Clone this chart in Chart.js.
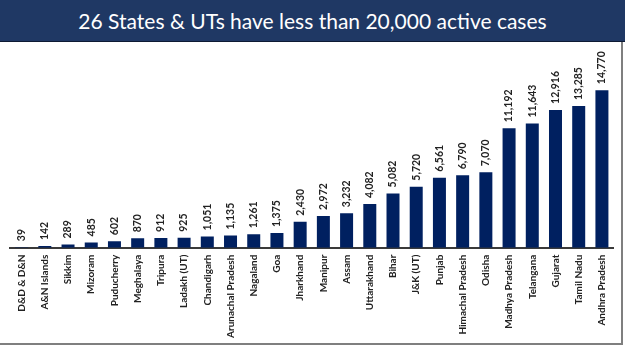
<!DOCTYPE html>
<html>
<head>
<meta charset="utf-8">
<script src="https://cdn.jsdelivr.net/npm/chart.js@4"></script>
<style>
  body { margin: 0; background: #fff; width: 625px; height: 351px; overflow: hidden; position: relative; }
  .titulo {
    position: absolute; left: 0; top: 0; width: 625px; height: 41px;
    background: #1f3864; border-bottom: 1px solid #0d1a33;
    color: #fff; font-family: Lato, "Open Sans", sans-serif; font-size: 21px;
    line-height: 41px; text-align: center;
  }
  .panel {
    position: absolute; left: 0; top: 42px; width: 621px; height: 301px;
    border-right: 2px solid #7f7f7f; border-bottom: 2px solid #7f7f7f;
  }
</style>
</head>
<body>
<div class="titulo">26 States &amp; UTs have less than 20,000 active cases</div>
<div class="panel"><canvas id="grafico" width="621" height="301"></canvas></div>
<script>
// estados y casos activos
const estados = ['D&D & D&N', 'A&N Islands', 'Sikkim', 'Mizoram', 'Puducherry', 'Meghalaya', 'Tripura',
    'Ladakh (UT)', 'Chandigarh', 'Arunachal Pradesh', 'Nagaland', 'Goa', 'Jharkhand', 'Manipur', 'Assam',
    'Uttarakhand', 'Bihar', 'J&K (UT)', 'Punjab', 'Himachal Pradesh', 'Odisha', 'Madhya Pradesh',
    'Telangana', 'Gujarat', 'Tamil Nadu', 'Andhra Pradesh'];
const casosActivos = [39, 142, 289, 485, 602, 870, 912, 925, 1051, 1135, 1261, 1375, 2430, 2972, 3232,
    4082, 5082, 5720, 6561, 6790, 7070, 11192, 11643, 12916, 13285, 14770];

const fuente = 'Lato, "Open Sans", sans-serif';

// etiquetas de valor encima de las barras
const etiquetasValor = {
    id: 'etiquetasValor',
    afterDatasetsDraw(chart) {
        const ctx = chart.ctx;
        const meta = chart.getDatasetMeta(0);
        ctx.save();
        ctx.fillStyle = '#222';
        ctx.font = 'bold 10.5px ' + fuente;
        ctx.textAlign = 'left';
        ctx.textBaseline = 'middle';
        meta.data.forEach((barra, i) => {
            ctx.save();
            ctx.translate(barra.x, barra.y - 6);
            ctx.rotate(-Math.PI / 2);
            ctx.fillText(casosActivos[i].toLocaleString('en-US'), 0, 0);
            ctx.restore();
        });
        ctx.restore();
    }
};

const ctx = document.getElementById('grafico').getContext('2d');
const chart = new Chart(ctx, {
    type: 'bar',
    data: {
        labels: estados,
        datasets: [{
            data: casosActivos,
            backgroundColor: '#002060',
            barPercentage: 0.56,
            categoryPercentage: 1,
        }],
    },
    options: {
        responsive: false,
        animation: false,
        layout: { padding: { left: 10, right: 4, top: 18, bottom: -2 } },
        plugins: { legend: { display: false }, tooltip: { enabled: false } },
        scales: {
            x: {
                grid: { display: false, drawTicks: false },
                border: { color: '#3a3a3a', width: 2 },
                ticks: {
                    color: '#222',
                    font: { family: fuente, size: 10, weight: 'bold' },
                    minRotation: 90, maxRotation: 90, padding: 7, autoSkip: false,
                },
            },
            y: { display: false, min: 0, max: 17600 },
        },
    },
    plugins: [etiquetasValor],
});
</script>
</body>
</html>
